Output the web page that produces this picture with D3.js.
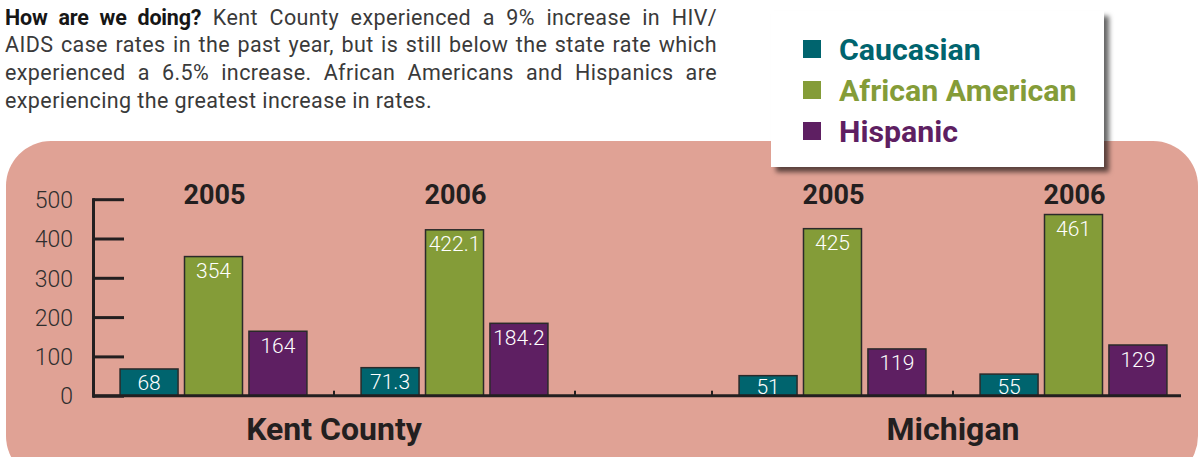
<!DOCTYPE html>
<html><head><meta charset="utf-8">
<script src="https://cdn.jsdelivr.net/npm/d3@7"></script>
<style>
html,body{margin:0;padding:0;background:#fff;}
body{width:1199px;height:457px;overflow:hidden;}
</style>
</head><body>
<svg id="chart" width="1199" height="457"></svg>
<script>
const regions = ["Kent County", "Michigan"];
const years = ["2005", "2006"];
const seriesNames = ["Caucasian", "African American", "Hispanic"];
// order: Kent 2005, Kent 2006, Michigan 2005, Michigan 2006
const caucasian = [68, 71.3, 51, 55];
const africanAmerican = [354, 422.1, 425, 461];
const hispanic = [164, 184.2, 119, 129];
const yTicks = [0, 100, 200, 300, 400, 500];
const seriesColors = ["#00646e", "#849c38", "#5e1f62"];
const introLead = "How are we doing?";
const introLines = [
  " Kent County experienced a 9% increase in HIV/",
  "AIDS case rates in the past year, but is still below the state rate which",
  "experienced a 6.5% increase. African Americans and Hispanics are",
  "experiencing the greatest increase in rates."
];

const seriesValues = [caucasian, africanAmerican, hispanic];
const svg = d3.select("#chart");
const FONT = "Roboto, 'Liberation Sans', sans-serif";
const AXIS = "#231f20";

const defs = svg.append("defs");
const f = defs.append("filter").attr("id", "shadow").attr("x", "-10%").attr("y", "-10%").attr("width", "130%").attr("height", "130%");
f.append("feDropShadow").attr("dx", 5).attr("dy", 5).attr("stdDeviation", 2.5).attr("flood-color", "#000").attr("flood-opacity", 0.6);

// intro text (lines 1-3 justified)
const intro = svg.append("g").attr("font-family", FONT).attr("font-size", 21.5).attr("fill", "#3a3a3a");
introLines.forEach((line, i) => {
  const t = intro.append("text").attr("x", 5).attr("y", 24.5 + i * 27.7).attr("letter-spacing", 0.4);
  if (i === 0) t.append("tspan").attr("font-weight", "bold").attr("fill", "#161616")
    .attr("letter-spacing", -0.2).text(introLead);
  t.append("tspan").text(line);
  if (i < 3) {
    const natural = t.node().getComputedTextLength();
    const spaces = ((i === 0 ? introLead : "") + line).split(" ").length - 1;
    t.attr("word-spacing", (712 - natural) / spaces);
  }
});

// panel
svg.append("rect").attr("x", 6).attr("y", 141).attr("width", 1192).attr("height", 340)
  .attr("rx", 45).attr("ry", 45).attr("fill", "#e0a295");

// scales
const xRegion = d3.scaleBand().domain(regions).range([93, 1194]).paddingInner(0.2213).paddingOuter(0);
const xYear = d3.scaleBand().domain(years).range([0, xRegion.bandwidth()]);
const xSeries = d3.scaleBand().domain(seriesNames).range([0, xYear.bandwidth()]).paddingInner(0.1).paddingOuter(0.42);
const y = d3.scaleLinear().domain([0, 500]).range([395.7, 199.2]);

// y axis
const yAxis = svg.append("g").attr("transform", "translate(93,0)")
  .call(d3.axisLeft(y).tickValues(yTicks).tickSizeInner(-31).tickSizeOuter(0).tickPadding(20));
yAxis.select(".domain").attr("stroke", AXIS).attr("stroke-width", 3).attr("stroke-linecap", "square");
yAxis.selectAll(".tick line").attr("stroke", AXIS).attr("stroke-width", 3);
yAxis.selectAll(".tick text").attr("font-family", FONT).attr("font-weight", 300).attr("font-size", 23)
  .attr("fill", "#2e2e2e").attr("dy", "0.36em");

// bars
const bars = [];
regions.forEach((r, i) => years.forEach((yr, j) => seriesNames.forEach((s, k) => {
  bars.push({region: r, year: yr, series: s, k, value: seriesValues[k][i * 2 + j]});
})));
const bx = d => xRegion(d.region) + xYear(d.year) + xSeries(d.series);
svg.append("g").selectAll("rect").data(bars).join("rect")
  .attr("x", bx).attr("y", d => y(d.value))
  .attr("width", xSeries.bandwidth()).attr("height", d => y(0) - y(d.value))
  .attr("fill", d => seriesColors[d.k]).attr("stroke", "#2a2a2a").attr("stroke-width", 1.5);
svg.append("g").selectAll("text").data(bars).join("text")
  .attr("x", d => bx(d) + xSeries.bandwidth() / 2)
  .attr("y", d => y(d.value) + Math.min(21.5, y(0) - y(d.value) - 1.5))
  .attr("text-anchor", "middle").attr("font-family", FONT).attr("font-weight", 300)
  .attr("font-size", 21).attr("fill", "#fff")
  .text(d => String(d.value));

// baseline
svg.append("line").attr("x1", 93).attr("x2", 1181).attr("y1", y(0)).attr("y2", y(0))
  .attr("stroke", AXIS).attr("stroke-width", 3);
const bTicks = [];
regions.forEach(r => {
  bTicks.push(xRegion(r), xRegion(r) + xYear("2006"), xRegion(r) + xRegion.bandwidth());
});
svg.append("g").selectAll("line").data(bTicks.filter(x => x > 96 && x < 1181)).join("line")
  .attr("x1", d => d).attr("x2", d => d).attr("y1", y(0) - 5).attr("y2", y(0))
  .attr("stroke", AXIS).attr("stroke-width", 2);

// year labels
const yl = [];
regions.forEach(r => years.forEach(yr => yl.push({r, yr})));
svg.append("g").selectAll("text").data(yl).join("text")
  .attr("x", d => xRegion(d.r) + xYear(d.yr) + xYear.bandwidth() / 2 + 1).attr("y", 204)
  .attr("text-anchor", "middle").attr("font-family", FONT).attr("font-weight", "bold")
  .attr("font-size", 27).attr("fill", AXIS).text(d => d.yr);

// region labels
svg.append("g").selectAll("text").data(regions).join("text")
  .attr("x", d => xRegion(d) + xRegion.bandwidth() / 2).attr("y", 440)
  .attr("text-anchor", "middle").attr("font-family", FONT).attr("font-weight", "bold")
  .attr("font-size", 32).attr("fill", AXIS).text(d => d);

// legend
const lg = svg.append("g");
lg.append("rect").attr("x", 771).attr("y", 11).attr("width", 333).attr("height", 156)
  .attr("fill", "#fff").attr("filter", "url(#shadow)");
const li = lg.selectAll("g").data(seriesNames).join("g")
  .attr("transform", (d, i) => `translate(803,${40 + i * 41})`);
li.append("rect").attr("width", 18).attr("height", 18).attr("fill", (d, i) => seriesColors[i]);
li.append("text").attr("x", 36).attr("y", 20).attr("font-family", FONT).attr("font-weight", "bold")
  .attr("font-size", 30.3).attr("fill", (d, i) => seriesColors[i]).text(d => d);
</script>
</body></html>
